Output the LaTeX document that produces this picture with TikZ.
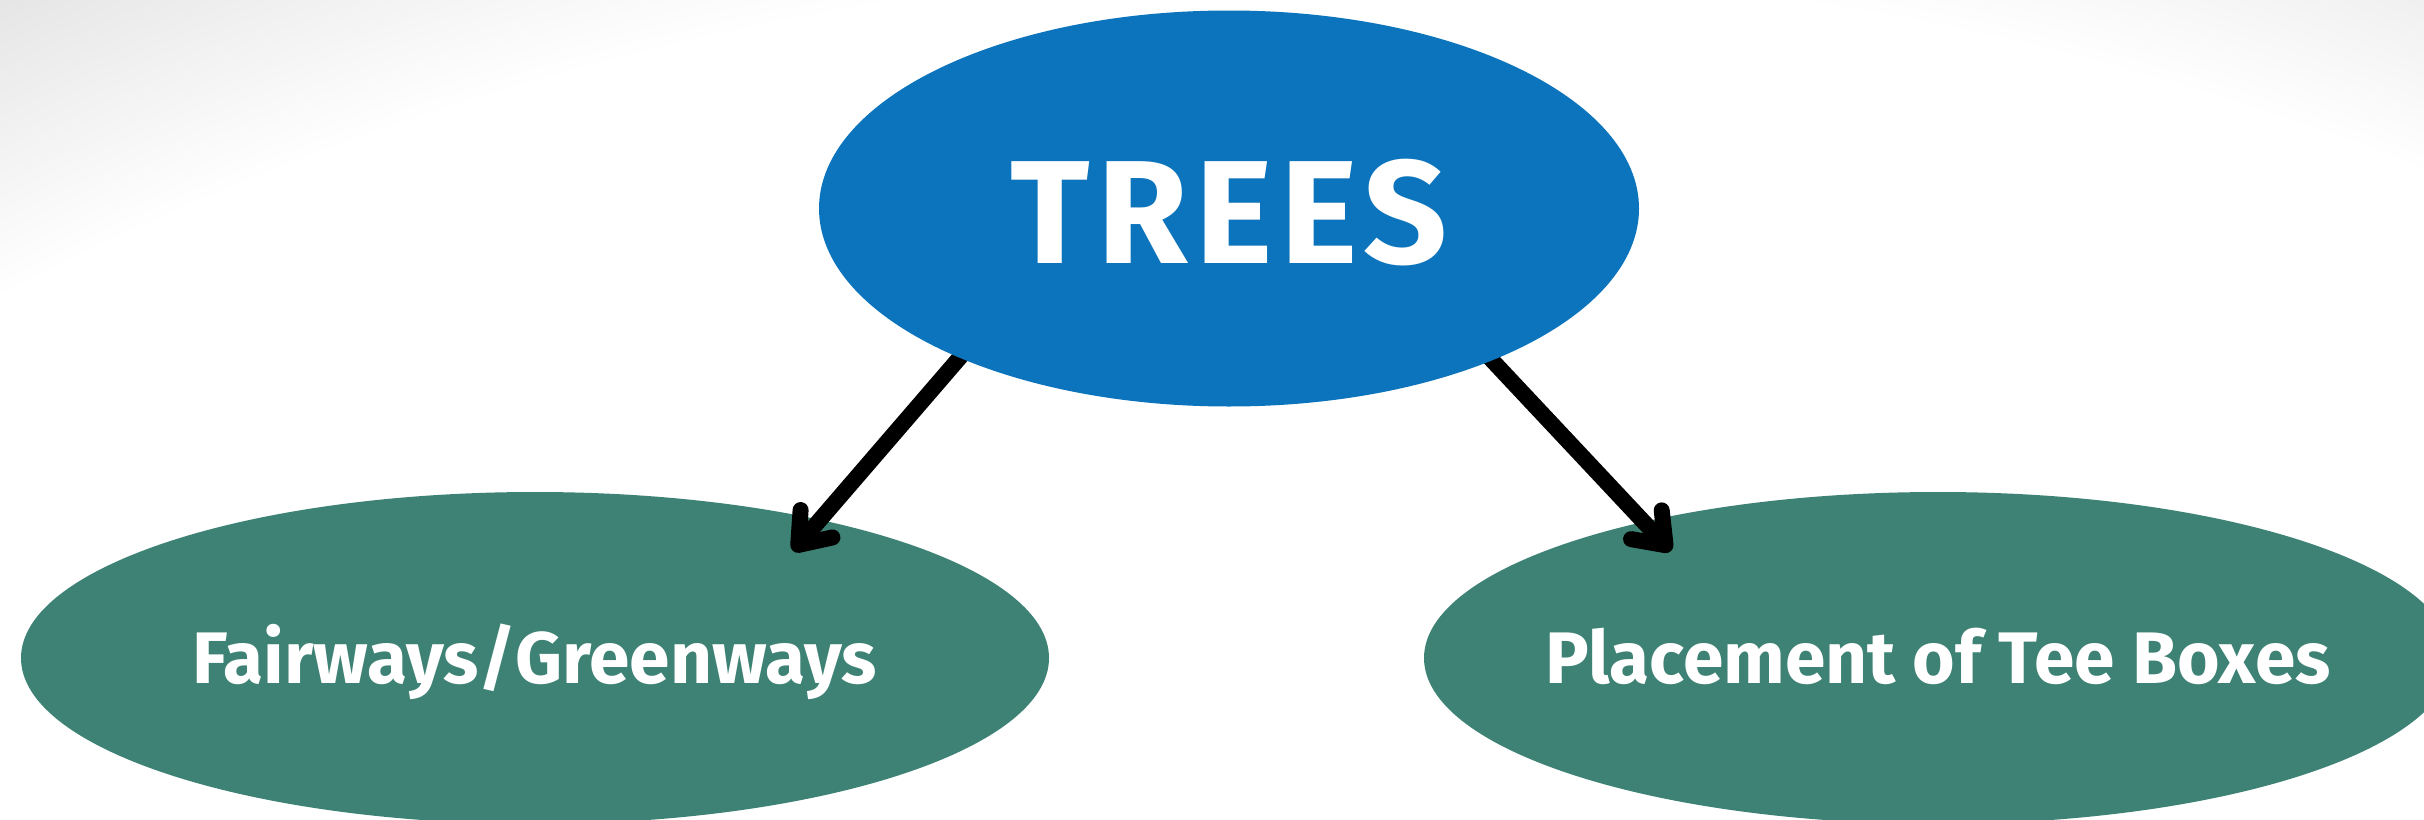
\documentclass[tikz,border=0pt]{standalone}
\usepackage{fontspec}
\setmainfont{Fira Sans}
\newfontfamily\treesfont{Fira Sans}[LetterSpace=5]
\usetikzlibrary{shapes.geometric,arrows.meta,backgrounds}
\definecolor{topblue}{HTML}{0C74BC}
\definecolor{leafgreen}{HTML}{3D8274}
\definecolor{bggray}{HTML}{E6E6E6}
\pgfdeclareradialshading{bgfade}{\pgfpoint{0bp}{0bp}}{%
  color(0bp)=(white); color(22.2bp)=(white); color(24.2bp)=(bggray); color(25bp)=(bggray); color(50bp)=(bggray)}
\tikzset{
  rootnode/.style={ellipse, fill=topblue, draw=none, inner sep=0pt,
    minimum width=820pt, minimum height=396pt, text=white,
    text height=109pt, text depth=0pt,
    font=\treesfont\bfseries\fontsize{147}{160}\selectfont},
  leafnode/.style={ellipse, fill=leafgreen, draw=none, inner sep=0pt,
    minimum width=1028pt, minimum height=332pt, text=white,
    text height=50pt, text depth=0pt,
    font=\bfseries\fontsize{73}{80}\selectfont},
  link/.style={line width=16pt, draw=black,
    -{Straight Barb[length=28pt, width=42pt, round]}, shorten <=-30pt},
}
\begin{document}
\begin{tikzpicture}[x=1pt, y=-1pt]
  \useasboundingbox (0,0) rectangle (2424,819);
  \begin{scope}[on background layer]
    \clip (0,0) rectangle (2424,819);
    \fill[white] (0,0) rectangle (2424,819);
    \shade[shading=bgfade] (1350,2900) circle (3300);
    \node[leafnode] (fair) at (535,658) {\makebox[0pt]{Fairways/Greenways}};
    \node[leafnode] (tee) at (1938,658) {\makebox[0pt]{Placement of Tee Boxes}};
  \end{scope}
  \node[rootnode] (trees) at (1229,208.5) {\makebox[0pt]{TREES}};
  \coordinate (tipL) at (793,551);
  \coordinate (tipR) at (1671,551);
  \begin{scope}[on background layer]
    \draw[link] (trees.209.6) -- (tipL);
    \draw[link] (trees.330.4) -- (tipR);
  \end{scope}
\end{tikzpicture}
\end{document}
